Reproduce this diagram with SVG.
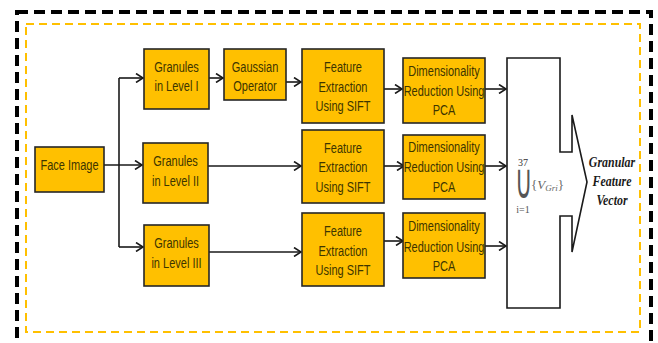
<svg xmlns="http://www.w3.org/2000/svg" width="658" height="343" viewBox="0 0 658 343">
<style>
.box{fill:#FFC000;stroke:#262626;stroke-width:1.6}
.t{font-family:"Liberation Sans",sans-serif;font-size:14.5px;fill:#3d3500;text-anchor:middle}
.c{fill:none;stroke:#1a1a1a;stroke-width:1.6}
.gf{font-family:"Liberation Serif",serif;font-style:italic;font-weight:bold;font-size:14px;fill:#1a1a1a;text-anchor:middle}
</style>
<defs>
<marker id="ah" markerWidth="10" markerHeight="10" refX="8" refY="5" orient="auto" markerUnits="userSpaceOnUse">
<path d="M1,0.5 L8,5 L1,9.5" fill="none" stroke="#1a1a1a" stroke-width="1.6"/>
</marker>
</defs>
<rect x="17" y="12" width="634" height="345" fill="none" stroke="#000" stroke-width="4" stroke-dasharray="11,6"/>
<rect x="26" y="24" width="614" height="308" fill="none" stroke="#FFC000" stroke-width="2" stroke-dasharray="8,5"/>

<g id="connectors">
<path class="c" d="M104,165 H142" marker-end="url(#ah)"/>
<path class="c" d="M119,78 V247"/>
<path class="c" d="M119,78 H143" marker-end="url(#ah)"/>
<path class="c" d="M119,247 H143" marker-end="url(#ah)"/>
<path class="c" d="M209,78 H223" marker-end="url(#ah)"/>
<path class="c" d="M286,82 H301" marker-end="url(#ah)"/>
<path class="c" d="M208,166 H301" marker-end="url(#ah)"/>
<path class="c" d="M209,252 H301" marker-end="url(#ah)"/>
<path class="c" d="M384,89 H402" marker-end="url(#ah)"/>
<path class="c" d="M485,89 H506" marker-end="url(#ah)"/>
<path class="c" d="M384,166 H404" marker-end="url(#ah)"/>
<path class="c" d="M485,166 H506" marker-end="url(#ah)"/>
<path class="c" d="M384,241 H403" marker-end="url(#ah)"/>
<path class="c" d="M485,246 H506" marker-end="url(#ah)"/>
</g>

<g id="face"><rect class="box" x="35" y="147" width="69" height="45"/><text class="t" transform="matrix(0.76 0 0 1 69.5 170)">Face Image</text></g>
<g id="gran1"><rect class="box" x="144" y="49" width="65" height="60"/><text class="t" transform="matrix(0.76 0 0 1 176.5 72)">Granules</text><text class="t" transform="matrix(0.76 0 0 1 176.5 91)">in Level I</text></g>
<g id="gauss"><rect class="box" x="224" y="49" width="62" height="51"/><text class="t" transform="matrix(0.76 0 0 1 255 72)">Gaussian</text><text class="t" transform="matrix(0.76 0 0 1 255 91)">Operator</text></g>
<g id="fe1"><rect class="box" x="302" y="49" width="82" height="74"/><text class="t" transform="matrix(0.76 0 0 1 343 72)">Feature</text><text class="t" transform="matrix(0.76 0 0 1 343 92)">Extraction</text><text class="t" transform="matrix(0.76 0 0 1 343 111)">Using SIFT</text></g>
<g id="dr1"><rect class="box" x="403" y="58" width="82" height="65"/><text class="t" transform="matrix(0.76 0 0 1 444 76)">Dimensionality</text><text class="t" transform="matrix(0.76 0 0 1 444 96)">Reduction Using</text><text class="t" transform="matrix(0.76 0 0 1 444 115)">PCA</text></g>

<g id="gran2"><rect class="box" x="143" y="143" width="65" height="60"/><text class="t" transform="matrix(0.76 0 0 1 175.5 166)">Granules</text><text class="t" transform="matrix(0.76 0 0 1 175.5 186)">in Level II</text></g>
<g id="fe2"><rect class="box" x="302" y="130" width="82" height="73"/><text class="t" transform="matrix(0.76 0 0 1 343 153)">Feature</text><text class="t" transform="matrix(0.76 0 0 1 343 172)">Extraction</text><text class="t" transform="matrix(0.76 0 0 1 343 192)">Using SIFT</text></g>
<g id="dr2"><rect class="box" x="403" y="135" width="82" height="64"/><text class="t" transform="matrix(0.76 0 0 1 444 152)">Dimensionality</text><text class="t" transform="matrix(0.76 0 0 1 444 172)">Reduction Using</text><text class="t" transform="matrix(0.76 0 0 1 444 192)">PCA</text></g>

<g id="gran3"><rect class="box" x="144" y="225" width="65" height="61"/><text class="t" transform="matrix(0.76 0 0 1 176.5 248)">Granules</text><text class="t" transform="matrix(0.76 0 0 1 176.5 268)">in Level III</text></g>
<g id="fe3"><rect class="box" x="302" y="213" width="82" height="73"/><text class="t" transform="matrix(0.76 0 0 1 343 236)">Feature</text><text class="t" transform="matrix(0.76 0 0 1 343 256)">Extraction</text><text class="t" transform="matrix(0.76 0 0 1 343 275)">Using SIFT</text></g>
<g id="dr3"><rect class="box" x="403" y="213" width="82" height="65"/><text class="t" transform="matrix(0.76 0 0 1 444 231)">Dimensionality</text><text class="t" transform="matrix(0.76 0 0 1 444 252)">Reduction Using</text><text class="t" transform="matrix(0.76 0 0 1 444 271)">PCA</text></g>

<g id="union">
<path d="M507,58 H560 V152 H572 V115 L587,182 L572,252 V216 H560 V308 H507 Z" fill="#fff" stroke="#1a1a1a" stroke-width="1.6"/>
<text x="523" y="166" font-family="Liberation Serif,serif" font-size="10" fill="#333" text-anchor="middle">37</text>
<text transform="matrix(0.85 0 0 1.75 523.5 198)" font-family="Liberation Serif,serif" font-size="28" fill="#555" text-anchor="middle">∪</text>
<text x="523" y="213" font-family="Liberation Serif,serif" font-size="10" fill="#555" text-anchor="middle">i=1</text>
<text x="531" y="189" font-family="Liberation Serif,serif" font-size="13" fill="#666">{<tspan font-style="italic">V</tspan><tspan font-style="italic" font-size="9" dy="2">Gri</tspan><tspan dy="-2">}</tspan></text>
</g>
<g id="output">
<text class="gf" transform="matrix(0.85 0 0 1 612 167)">Granular</text>
<text class="gf" transform="matrix(0.85 0 0 1 612 186)">Feature</text>
<text class="gf" transform="matrix(0.85 0 0 1 612 205)">Vector</text>
</g>
</svg>
